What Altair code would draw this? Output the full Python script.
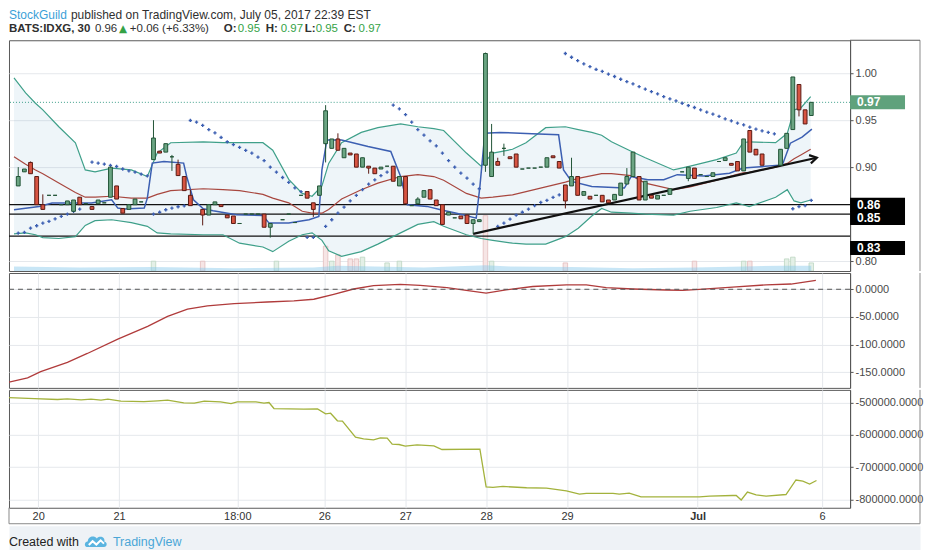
import altair as alt
import pandas as pd

FONT = "Liberation Sans"

# ---------------- x axis (bar index) ----------------
tick_pos = [4, 17, 36, 50, 63, 76, 89, 110, 130]
tick_lab = ["20", "21", "18:00", "26", "27", "28", "29", "Jul", "6"]

# ---------------- candles (30 min bars) ----------------
cand_i = [0, 1, 2, 3, 4, 5, 6, 7, 8, 9,
          10, 11, 12, 13, 14, 15, 16, 17, 18, 19,
          20, 22, 23, 24, 25, 26, 27, 28,
          30, 31, 32, 33, 34, 35, 36, 37, 38, 39, 40, 41,
          43, 44, 45, 46, 47, 48, 49,
          50, 51, 52, 53, 54, 55, 56, 57, 58, 59,
          60, 61, 62, 63, 64, 65, 66, 67, 68, 69,
          70, 71, 72, 73, 74, 75, 76, 77, 78, 79,
          80, 81, 82, 83, 84, 85, 86, 87, 88, 89,
          90, 91, 92, 93, 94, 95, 96, 97, 98, 99,
          100, 101, 102, 103, 104, 105, 106,
          108, 109, 110, 111, 112, 113, 114, 115, 116, 117, 118, 119, 120, 121,
          124, 125, 126, 127, 128, 129]
cand_o = [0.880, 0.895, 0.905, 0.890, 0.860, 0.870, 0.870, 0.860, 0.860, 0.853,
          0.868, 0.861, 0.858, 0.861, 0.862, 0.868, 0.880, 0.856, 0.855, 0.860,
          0.863, 0.908, 0.917, 0.916, 0.911, 0.903, 0.890, 0.870,
          0.855, 0.849, 0.860, 0.860, 0.849, 0.848, 0.840, 0.850, 0.850, 0.850, 0.850, 0.836,
          0.844, 0.850, 0.841, 0.870, 0.874, 0.862, 0.870,
          0.925, 0.920, 0.930, 0.910, 0.915, 0.914, 0.900, 0.901, 0.899, 0.898,
          0.901, 0.901, 0.880, 0.890, 0.859, 0.861, 0.868, 0.876, 0.865, 0.860,
          0.849, 0.846, 0.848, 0.849, 0.840, 0.842, 0.902, 0.890, 0.906, 0.920,
          0.911, 0.914, 0.898, 0.899, 0.899, 0.900, 0.900, 0.912, 0.906, 0.881,
          0.880, 0.890, 0.870, 0.869, 0.870, 0.870, 0.865, 0.865, 0.870, 0.882,
          0.890, 0.890, 0.865, 0.870, 0.866, 0.870, 0.871,
          0.895, 0.888, 0.899, 0.892, 0.890, 0.890, 0.906, 0.907, 0.904, 0.906, 0.896, 0.939, 0.919, 0.914,
          0.902, 0.920, 0.940, 0.988, 0.961, 0.955]
cand_h = [0.900, 0.898, 0.906, 0.890, 0.871, 0.870, 0.870, 0.860, 0.864, 0.865,
          0.868, 0.861, 0.858, 0.865, 0.862, 0.900, 0.880, 0.856, 0.860, 0.866,
          0.863, 0.950, 0.917, 0.925, 0.913, 0.908, 0.890, 0.876,
          0.855, 0.860, 0.863, 0.860, 0.849, 0.848, 0.840, 0.850, 0.850, 0.850, 0.850, 0.840,
          0.844, 0.850, 0.841, 0.870, 0.874, 0.862, 0.880,
          0.966, 0.930, 0.936, 0.920, 0.915, 0.914, 0.910, 0.901, 0.899, 0.900,
          0.901, 0.901, 0.890, 0.890, 0.859, 0.868, 0.875, 0.876, 0.865, 0.860,
          0.852, 0.846, 0.848, 0.849, 0.844, 0.844, 1.022, 0.946, 0.910, 0.925,
          0.911, 0.914, 0.898, 0.899, 0.899, 0.900, 0.910, 0.912, 0.906, 0.881,
          0.910, 0.890, 0.874, 0.869, 0.870, 0.870, 0.865, 0.871, 0.883, 0.899,
          0.916, 0.890, 0.885, 0.870, 0.870, 0.870, 0.877,
          0.895, 0.900, 0.899, 0.892, 0.890, 0.894, 0.906, 0.910, 0.904, 0.906, 0.930, 0.939, 0.919, 0.914,
          0.919, 0.936, 0.996, 0.988, 0.961, 0.969]
cand_l = [0.880, 0.895, 0.893, 0.860, 0.855, 0.870, 0.870, 0.860, 0.860, 0.852,
          0.860, 0.861, 0.855, 0.861, 0.862, 0.868, 0.866, 0.851, 0.855, 0.860,
          0.863, 0.908, 0.915, 0.916, 0.896, 0.891, 0.875, 0.859,
          0.838, 0.849, 0.860, 0.858, 0.846, 0.840, 0.840, 0.850, 0.850, 0.850, 0.836, 0.825,
          0.844, 0.850, 0.841, 0.870, 0.867, 0.847, 0.870,
          0.905, 0.920, 0.918, 0.910, 0.913, 0.900, 0.900, 0.893, 0.893, 0.898,
          0.901, 0.885, 0.880, 0.861, 0.859, 0.861, 0.868, 0.866, 0.859, 0.839,
          0.849, 0.846, 0.845, 0.840, 0.829, 0.842, 0.895, 0.890, 0.902, 0.912,
          0.909, 0.900, 0.898, 0.899, 0.899, 0.900, 0.900, 0.910, 0.899, 0.856,
          0.880, 0.870, 0.870, 0.866, 0.870, 0.863, 0.862, 0.865, 0.870, 0.882,
          0.890, 0.865, 0.865, 0.867, 0.866, 0.870, 0.871,
          0.895, 0.885, 0.888, 0.892, 0.890, 0.890, 0.906, 0.907, 0.902, 0.896, 0.896, 0.916, 0.913, 0.902,
          0.902, 0.920, 0.940, 0.954, 0.946, 0.955]
cand_c = [0.890, 0.898, 0.893, 0.860, 0.855, 0.870, 0.870, 0.860, 0.864, 0.865,
          0.860, 0.861, 0.855, 0.865, 0.862, 0.900, 0.866, 0.851, 0.860, 0.866,
          0.863, 0.931, 0.915, 0.925, 0.911, 0.891, 0.875, 0.859,
          0.849, 0.860, 0.863, 0.858, 0.846, 0.840, 0.840, 0.850, 0.850, 0.850, 0.836, 0.840,
          0.844, 0.850, 0.841, 0.870, 0.867, 0.855, 0.880,
          0.960, 0.930, 0.918, 0.920, 0.913, 0.900, 0.910, 0.899, 0.893, 0.900,
          0.901, 0.885, 0.890, 0.861, 0.859, 0.866, 0.875, 0.866, 0.859, 0.839,
          0.852, 0.846, 0.845, 0.840, 0.844, 0.844, 1.021, 0.916, 0.902, 0.920,
          0.909, 0.900, 0.898, 0.899, 0.899, 0.900, 0.910, 0.910, 0.899, 0.864,
          0.890, 0.870, 0.874, 0.866, 0.870, 0.863, 0.862, 0.871, 0.883, 0.890,
          0.916, 0.865, 0.885, 0.867, 0.870, 0.870, 0.877,
          0.895, 0.900, 0.888, 0.892, 0.890, 0.894, 0.906, 0.910, 0.902, 0.896, 0.930, 0.916, 0.913, 0.902,
          0.919, 0.936, 0.996, 0.961, 0.946, 0.969]

# ---------------- Bollinger bands ----------------
bb_i = [-0.69, 1.2, 2.8, 4.0, 6.6, 9.3, 10.9, 12.5, 15.2, 18.4, 21.0, 22.6, 24.8, 30.1, 33.3, 36.0, 39.8, 41.4,
        44.0, 46.2, 47.8, 49.4, 50.5, 52.6, 55.8, 58.5, 62.2, 65.0, 67.6, 69.2, 72.9, 75.3, 77.2, 80.4, 82.6,
        85.8, 89.0, 91.1, 93.3, 94.9, 96.5, 99.7, 102.0, 106.6, 109.3, 113.6, 116.8, 117.9, 118.9, 123.2,
        125.1, 126.2, 127.3, 128.9]
bb_up = [0.995, 0.979, 0.968, 0.961, 0.943, 0.926, 0.897, 0.895, 0.899, 0.897, 0.890, 0.915, 0.926, 0.927,
         0.926, 0.926, 0.926, 0.918, 0.887, 0.872, 0.869, 0.880, 0.904, 0.926, 0.937, 0.942, 0.946, 0.943,
         0.941, 0.939, 0.915, 0.901, 0.915, 0.919, 0.926, 0.942, 0.943, 0.940, 0.937, 0.934, 0.927, 0.917,
         0.910, 0.897, 0.901, 0.908, 0.915, 0.926, 0.927, 0.926, 0.936, 0.961, 0.963, 0.975]
bb_lo = [0.829, 0.830, 0.828, 0.825, 0.824, 0.826, 0.838, 0.843, 0.844, 0.841, 0.837, 0.830, 0.829, 0.828,
         0.828, 0.819, 0.815, 0.810, 0.821, 0.828, 0.830, 0.822, 0.811, 0.805, 0.810, 0.818, 0.830, 0.839,
         0.842, 0.837, 0.828, 0.824, 0.822, 0.819, 0.818, 0.818, 0.826, 0.835, 0.848, 0.856, 0.852, 0.851,
         0.850, 0.849, 0.853, 0.857, 0.862, 0.860, 0.858, 0.868, 0.876, 0.864, 0.862, 0.865]
bb_mid = [0.911, 0.903, 0.897, 0.893, 0.883, 0.873, 0.868, 0.868, 0.869, 0.867, 0.867, 0.871, 0.875, 0.877,
          0.876, 0.875, 0.871, 0.867, 0.862, 0.853, 0.851, 0.851, 0.855, 0.866, 0.876, 0.883, 0.890, 0.892,
          0.890, 0.886, 0.872, 0.867, 0.868, 0.8705, 0.874, 0.879, 0.884, 0.888, 0.891, 0.893, 0.893, 0.891,
          0.883, 0.876, 0.879, 0.886, 0.892, 0.894, 0.8945, 0.900, 0.904, 0.909, 0.913, 0.919]

# ---------------- blue channel line ----------------
bl_i = [-0.69, 3.4, 5.5, 11.9, 15.2, 16.2, 17.3, 20.5, 21.0, 21.8, 23.7, 26.9, 27.4, 28.5, 30.1, 31.7, 35.5,
        39.8, 40.8, 44.0, 47.3, 48.9, 49.4, 50.2, 52.6, 56.9, 60.6, 62.2, 63.3, 66.5, 68.7, 71.3, 74.5, 75.1,
        75.9, 78.3, 83.6, 87.9, 88.7, 90.0, 93.3, 98.6, 99.7, 102.4, 105.0, 107.2, 111.5, 115.7, 117.9, 124.3,
        125.6, 127.5, 129.1]
bl_v = [0.8546, 0.8582, 0.8617, 0.8617, 0.8652, 0.8564, 0.8553, 0.8564, 0.867, 0.9043, 0.906, 0.9043, 0.890,
        0.8652, 0.8557, 0.8535, 0.8493, 0.8486, 0.8404, 0.8404, 0.8439, 0.8476, 0.897, 0.929, 0.929, 0.922,
        0.9167, 0.890, 0.860, 0.8582, 0.8546, 0.851, 0.8457, 0.8795, 0.936, 0.937, 0.9355, 0.9344, 0.897,
        0.8848, 0.8795, 0.8777, 0.890, 0.8865, 0.8865, 0.892, 0.8907, 0.8936, 0.899, 0.9024, 0.9255, 0.932,
        0.9404]

# ---------------- parabolic SAR ----------------
sar_i = [0, 1, 2, 3, 4, 5, 6, 7, 8, 9, 10,
         12, 13, 14, 15, 16, 17, 18, 19, 20, 21,
         22, 23, 24, 25, 26, 27,
         28, 29, 30, 31, 32, 33, 34, 35, 36, 37, 38, 39, 40, 41, 42, 43, 44, 45, 46,
         47, 48,
         50, 51, 52, 53, 54, 55, 56, 57, 58, 59, 60,
         61, 62, 63, 64, 65, 66, 67, 68, 69, 70, 71, 72, 73, 74, 75,
         78, 79, 80, 81, 82, 83, 84, 85, 86, 87, 88,
         89, 90, 91, 92, 93, 94, 95, 96, 97, 98, 99, 100, 101, 102, 103, 104, 105, 106, 107, 108,
         109, 110, 111, 112, 113, 114, 115, 116, 117, 118, 119, 120, 121, 122, 123,
         126, 127, 128, 129]
sar_v = [0.8298, 0.8305, 0.835, 0.8376, 0.8404, 0.8422, 0.845, 0.8476, 0.850, 0.8529, 0.8553,
         0.9053, 0.9043, 0.9032, 0.9018, 0.9007, 0.898, 0.896, 0.8947, 0.8926, 0.8907,
         0.850, 0.852, 0.8546, 0.8564, 0.8578, 0.8588,
         0.9497, 0.948, 0.9444, 0.940, 0.9365, 0.9316, 0.927, 0.924, 0.921, 0.9178, 0.915, 0.9106, 0.907,
         0.900, 0.8947, 0.889, 0.8837, 0.878, 0.874,
         0.8252, 0.8252,
         0.837, 0.844, 0.851, 0.8574, 0.864, 0.870, 0.876, 0.882, 0.8865, 0.891, 0.8947,
         0.966, 0.962, 0.956, 0.948, 0.940, 0.934, 0.928, 0.9227, 0.915, 0.907, 0.900, 0.8936, 0.8883,
         0.882, 0.877,
         0.837, 0.8404, 0.8447, 0.849, 0.852, 0.8553, 0.859, 0.8624, 0.8646, 0.8678, 0.8705,
         1.021, 1.017, 1.0135, 1.010, 1.007, 1.004, 1.002, 0.999, 0.9965, 0.9936, 0.991, 0.9886, 0.9858,
         0.983, 0.9805, 0.978, 0.975, 0.9727, 0.9705, 0.968, 0.9656, 0.9635, 0.961, 0.9585, 0.9564, 0.954,
         0.9514, 0.9493, 0.9468, 0.945, 0.9426, 0.9404, 0.9386, 0.937, 0.9354,
         0.8557, 0.858, 0.859, 0.8646]

# ---------------- drawn levels / trend ----------------
level_v = [0.86, 0.85, 0.8266]
level_t = ["0.86", "0.85", "0.83"]
last_v = [0.969]
last_t = ["0.97"]
trend_i = [74, 129.9]
trend_p = [0.829, 0.910]

# ---------------- volume ----------------
vol_i = [22, 30, 42, 50, 51, 52, 54, 55, 56, 60, 62, 76, 77, 89, 110, 118, 119, 125, 126, 129]
vol_v = [17, 17, 17, 43, 17, 28, 21, 21, 24, 14, 17, 96, 17, 14, 17, 17, 17, 21, 24, 14]
vol_d = ["up", "down", "up", "down", "up", "down", "down", "down", "up", "up", "up", "down", "up",
         "down", "down", "up", "down", "up", "up", "up"]
vma_i = [-0.69, 10, 22, 35, 48, 52, 58, 66, 76, 80, 90, 100, 110, 118, 124, 129]
vma_v = [8, 6, 7, 5, 6, 9, 8, 6, 10, 8, 7, 5, 6, 8, 9, 9]

# ---------------- indicator 1 (red) ----------------
ind_i = [-0.69, 2.3, 4.4, 8.7, 11.9, 16.8, 21.6, 24.8, 28.0, 31.2, 35.5, 40.8, 45.1, 48.3, 51.5, 54.7, 57.9,
         62.2, 65.4, 69.7, 72.8, 76.0, 79.2, 83.5, 88.9, 92.1, 95.3, 99.6, 104.9, 107.6, 110.3, 115.6, 121.0,
         125.0, 129.0]
ind_v = [-168, -160, -149, -132, -116, -90, -67, -49, -36, -30, -26, -23, -21, -18, -9, 0.5, 6.5, 9, 7, 3,
         -2, -7, -1, 5, 8, 8, 3, 0.5, -1.3, -2, 0, 4, 8, 9.5, 16]

# ---------------- indicator 2 (olive) ----------------
obv_i = [-0.69, 3.4, 7.1, 8.7, 10.9, 12.5, 14.1, 15.2, 17.3, 21.0, 23.2, 24.8, 27.4, 29.1, 30.7, 33.3, 35.0,
         36.0, 39.0, 40.3, 41.1, 41.9, 46.7, 48.9, 50.2, 51.0, 52.1, 52.9, 55.0, 56.3, 57.9, 59.0, 60.1, 60.9,
         62.0, 63.0, 64.9, 67.6, 68.9, 75.0, 76.0, 77.1, 78.7, 82.5, 85.7, 88.9, 91.0, 92.1, 96.4, 97.4, 99.0,
         100.9, 110.3, 111.9, 115.6, 116.2, 117.0, 118.0, 119.4, 121.0, 124.2, 125.8, 126.9, 128.0, 129.1]
obv_v = [-485000, -487500, -490500, -488500, -491500, -489500, -492500, -489500, -495500, -497000, -494500,
         -492500, -501000, -502000, -495500, -498000, -503000, -498000, -498000, -502000, -500000, -518500,
         -520500, -519500, -535000, -533000, -556500, -557500, -607000, -612500, -615500, -609500, -610000,
         -629000, -630000, -635000, -631000, -634000, -645500, -644500, -761000, -763000, -760000, -764000,
         -765000, -773500, -783500, -781500, -781500, -783500, -780500, -792000, -792500, -790000, -788000,
         -788000, -802000, -777500, -786000, -790000, -785000, -740000, -743500, -752500, -741500]

# ======================================================================
cd = pd.DataFrame({"i": cand_i, "o": cand_o, "h": cand_h, "l": cand_l, "c": cand_c})
cd["dir"] = ["up" if c >= o else "down" for o, c in zip(cand_o, cand_c)]
cd_up = cd[cd["dir"] == "up"]
cd_dn = cd[cd["dir"] == "down"]
bb = pd.DataFrame({"i": bb_i, "up": bb_up, "lo": bb_lo, "mid": bb_mid})
bl = pd.DataFrame({"i": bl_i, "v": bl_v})
sar = pd.DataFrame({"i": sar_i, "v": sar_v})
lv = pd.DataFrame({"lv": level_v, "txt": level_t})
lp = pd.DataFrame({"lv": last_v, "txt": last_t})
tr = pd.DataFrame({"i": trend_i, "p": trend_p})
vol = pd.DataFrame({"i": vol_i, "v": vol_v, "d": vol_d})
vma = pd.DataFrame({"i": vma_i, "v": vma_v})
ind = pd.DataFrame({"i": ind_i, "v": ind_v})
obv = pd.DataFrame({"i": obv_i, "v": obv_v})
one = pd.DataFrame({"k": [0]})

W = 842
H_HEAD, H_P, H_I, H_B, H_FOOT = 29, 231, 115, 118, 24
RF = 912  # right frame x
BX0, BX1, BTX = W, W + 55, W + 7  # price tag boxes

xs = alt.Scale(domain=[-0.69, 134.5], nice=False, zero=False)
ps = alt.Scale(domain=[0.7894, 1.0351], nice=False, zero=False)
vs = alt.Scale(domain=[0, 400], nice=False)
is_ = alt.Scale(domain=[-178.2, 29.4], nice=False, zero=False)
bs = alt.Scale(domain=[-826000, -460700], nice=False, zero=False)

GRID = "#e5e8ec"
AXC = "#555555"
FRAME = "#8a8a8a"
NUMEXPR = "(datum.value < 0 ? '-' : '') + format(abs(datum.value), '.4f')"


def xgrid(labels=False):
    if not labels:
        return alt.Axis(values=tick_pos, labels=False, ticks=False, domain=False, grid=True,
                        gridColor=GRID, title=None)
    expr = " : ".join(f"datum.value == {p} ? '{t}'" for p, t in zip(tick_pos, tick_lab)) + " : ''"
    return alt.Axis(values=tick_pos, labelExpr=expr, ticks=False, domain=False, grid=True,
                    gridColor=GRID, title=None, labelFont=FONT, labelFontSize=11, labelColor="#333333",
                    labelPadding=3,
                    labelFontWeight={"condition": {"test": "datum.value == 110", "value": "bold"},
                                     "value": "normal"})


def yaxis(values, expr):
    return alt.Axis(orient="right", values=values, labelExpr=expr, grid=True, gridColor=GRID,
                    tickSize=3, tickColor=AXC, domain=True, domainColor=AXC, labelColor="#4a4a4a",
                    labelFont=FONT, labelFontSize=11, labelPadding=2, title=None)


def X(axis=None):
    return alt.X("i:Q", scale=xs, axis=axis)


def P(field, axis=None):
    return alt.Y(field, type="quantitative", scale=ps, axis=axis)


# ---------------- price panel ----------------
L = []
L.append(alt.Chart(bb).mark_area(color="#3f93bf", opacity=0.09, clip=True).encode(
    x=X(xgrid()), y=P("up", yaxis([0.80, 0.90, 0.95, 1.00], "format(datum.value, '.2f')")), y2="lo"))
for d, fc, sc in [("up", "#e4f0e7", "#bcd5c2"), ("down", "#f6e5e5", "#e2bdbd")]:
    L.append(alt.Chart(vol[vol["d"] == d]).mark_bar(width=4.5, fill=fc, stroke=sc, strokeWidth=0.8,
                                                    clip=True).encode(
        x=X(), y=alt.Y("v:Q", scale=vs, axis=None)))
L.append(alt.Chart(vma).mark_area(color="#86c8ec", opacity=0.45, clip=True).encode(
    x=X(), y=alt.Y("v:Q", scale=vs, axis=None)))
L.append(alt.Chart(lv).mark_rule(color="#111111", strokeWidth=1.3, clip=True).encode(y=P("lv")))
L.append(alt.Chart(lp).mark_rule(color="#3d9f8a", strokeWidth=1, strokeDash=[1, 2], clip=True).encode(
    y=P("lv")))
L.append(alt.Chart(bb).mark_line(color="#3fa08a", strokeWidth=1.2, clip=True).encode(x=X(), y=P("up")))
L.append(alt.Chart(bb).mark_line(color="#3fa08a", strokeWidth=1.2, clip=True).encode(x=X(), y=P("lo")))
L.append(alt.Chart(bb).mark_line(color="#a8473f", strokeWidth=1.2, clip=True).encode(x=X(), y=P("mid")))
L.append(alt.Chart(bl).mark_line(color="#3c5fb2", strokeWidth=1.5, clip=True).encode(x=X(), y=P("v")))
L.append(alt.Chart(sar).mark_point(shape="cross", filled=True, size=11, color="#3c5fb2", opacity=1,
                                   clip=True).encode(x=X(), y=P("v")))
L.append(alt.Chart(tr).mark_line(color="#111111", strokeWidth=2.2, clip=True).encode(x=X(), y=P("p")))
L.append(alt.Chart(tr.tail(1)).mark_point(shape="M -1 -0.6 L 0 0 L -1 0.6", filled=False, size=196,
                                          angle=347.6, strokeWidth=2.2, color="#111111", opacity=1,
                                          clip=True).encode(x=X(), y=P("p")))
for sub, fc, sc in [(cd_up, "#6ba583", "#225437"), (cd_dn, "#d75442", "#5b1a13")]:
    L.append(alt.Chart(sub).mark_rule(color=sc, strokeWidth=1, clip=True).encode(x=X(), y=P("l"), y2="h"))
    L.append(alt.Chart(sub).mark_bar(width=3.8, fill=fc, stroke=sc, strokeWidth=1, clip=True).encode(
        x=X(), y=P("o"), y2="c"))
for k, off in enumerate([0, 4, 12]):
    sub = lv.iloc[[k]]
    L.append(alt.Chart(sub).mark_rule(color="#000000", strokeWidth=14, yOffset=off).encode(
        x=alt.value(BX0), x2=alt.value(BX1), y=P("lv")))
    L.append(alt.Chart(sub).mark_text(color="white", font=FONT, fontSize=12, fontWeight="bold",
                                      align="left", baseline="middle", yOffset=off).encode(
        x=alt.value(BTX), y=P("lv"), text="txt:N"))
L.append(alt.Chart(lp).mark_rule(color="#5fa27c", strokeWidth=14).encode(
    x=alt.value(BX0), x2=alt.value(BX1), y=P("lv")))
L.append(alt.Chart(lp).mark_text(color="white", font=FONT, fontSize=12, fontWeight="bold",
                                 align="left", baseline="middle").encode(
    x=alt.value(BTX), y=P("lv"), text="txt:N"))
L.append(alt.Chart(one).mark_rule(color=FRAME, strokeWidth=1).encode(
    x=alt.value(RF), y=alt.value(0), y2=alt.value(H_P)))
L.append(alt.Chart(one).mark_rule(color=AXC, strokeWidth=1).encode(
    x=alt.value(W), x2=alt.value(RF), y=alt.value(0)))
price = alt.layer(*L).resolve_scale(y="independent").properties(width=W, height=H_P)

# ---------------- indicator panel ----------------
ind_chart = alt.layer(
    alt.Chart(ind).mark_line(color="#b03b3b", strokeWidth=1.3, clip=True).encode(
        x=X(xgrid()),
        y=alt.Y("v:Q", scale=is_, axis=yaxis([0, -50, -100, -150], NUMEXPR))),
    alt.Chart(pd.DataFrame({"z": [0]})).mark_rule(color="#555555", strokeWidth=1, strokeDash=[5, 4],
                                                  clip=True).encode(
        y=alt.Y("z:Q", scale=is_, axis=None)),
    alt.Chart(one).mark_rule(color=FRAME, strokeWidth=1).encode(
        x=alt.value(RF), y=alt.value(0), y2=alt.value(H_I)),
).resolve_scale(y="independent").properties(width=W, height=H_I)

# ---------------- bottom panel ----------------
bot_chart = alt.layer(
    alt.Chart(obv).mark_line(color="#a3b23c", strokeWidth=1.3, clip=True).encode(
        x=X(xgrid(labels=True)),
        y=alt.Y("v:Q", scale=bs, axis=yaxis([-500000, -600000, -700000, -800000], NUMEXPR))),
    alt.Chart(one).mark_rule(color=FRAME, strokeWidth=1).encode(
        x=alt.value(RF), y=alt.value(0), y2=alt.value(H_B + 16)),
    alt.Chart(one).mark_rule(color=FRAME, strokeWidth=1).encode(
        x=alt.value(0), x2=alt.value(RF), y=alt.value(H_B + 16)),
    alt.Chart(one).mark_rule(color=FRAME, strokeWidth=1).encode(
        x=alt.value(0), y=alt.value(H_B), y2=alt.value(H_B + 16)),
).properties(width=W, height=H_B)


# ---------------- header ----------------
def txt(s, x, y, color="#2f2f2f", bold=False, size=11.5, font=FONT):
    return alt.Chart(one).mark_text(align="left", baseline="middle", font=font, fontSize=size,
                                    fontWeight="bold" if bold else "normal", color=color).encode(
        x=alt.value(x), y=alt.value(y), text=alt.value(s))


GREEN = "#34a246"
Y1, Y2 = 6, 19.5
header = alt.layer(
    txt("StockGuild", 0, Y1, color="#3b9fd8", size=12),
    txt("published on TradingView.com, July 05, 2017 22:39 EST", 62, Y1, size=12),
    txt("BATS:IDXG, 30", 0, Y2, bold=True),
    txt("0.96", 86, Y2),
    txt("▲", 110, Y2, color=GREEN, font="DejaVu Sans", size=10.5),
    txt("+0.06 (+6.33%)", 121, Y2),
    txt("O:", 215, Y2, bold=True), txt("0.95", 229, Y2, color=GREEN),
    txt("H:", 257, Y2, bold=True), txt("0.97", 272, Y2, color=GREEN),
    txt("L:", 296, Y2, bold=True), txt("0.95", 307, Y2, color=GREEN),
    txt("C:", 335, Y2, bold=True), txt("0.97", 350, Y2, color=GREEN),
).properties(width=W, height=H_HEAD, view=alt.ViewBackground(stroke="transparent"))

# ---------------- footer ----------------
cloud = "M -0.95 0.55 C -1.25 0.55 -1.25 0.0 -0.85 -0.05 C -0.85 -0.55 -0.2 -0.75 0.1 -0.35 C 0.45 -0.7 1.0 -0.45 0.9 0.0 C 1.25 0.05 1.2 0.55 0.85 0.55 Z"
zig = "M -0.75 0.35 L -0.35 -0.05 L 0.05 0.3 L 0.5 -0.15 L 0.85 0.2"
FY = 16
footer = alt.layer(
    txt("Created with", 0, FY, color="#222222", size=12.5),
    alt.Chart(one).mark_point(shape=cloud, filled=True, size=360, color="#5ab4e0", opacity=1).encode(
        x=alt.value(87), y=alt.value(FY)),
    alt.Chart(one).mark_point(shape=zig, filled=False, size=360, color="white", strokeWidth=2,
                              opacity=1).encode(x=alt.value(87), y=alt.value(FY)),
    txt("TradingView", 104, FY, color="#4aa6d6", size=12.5),
).properties(width=RF, height=H_FOOT, view=alt.ViewBackground(stroke="transparent", fill="#eef2f6"))

chart = alt.vconcat(header, price, ind_chart, bot_chart, footer, spacing=0).properties(
    padding={"left": 0, "top": 0, "right": 0, "bottom": 0}
).configure(padding={"left": 0, "top": 0, "right": 0, "bottom": 0}).configure_view(
    stroke="#5a5a5a", strokeWidth=1)

chart.save("out.html", embed_options={"renderer": "svg", "actions": False})
